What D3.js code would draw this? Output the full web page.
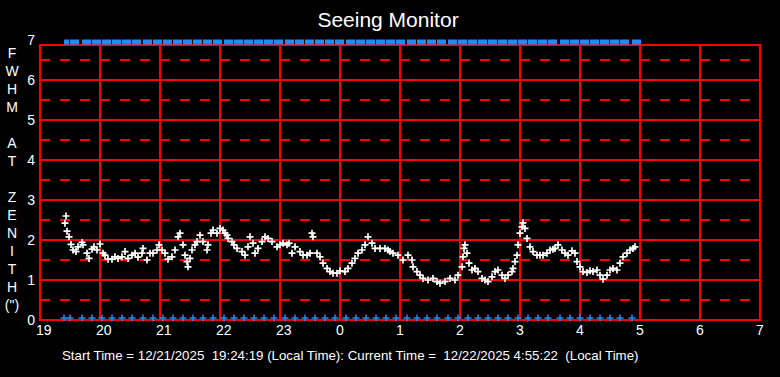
<!DOCTYPE html>
<html>
<head>
<meta charset="utf-8">
<script src="https://cdn.jsdelivr.net/npm/d3@7"></script>
<style>
  body { margin: 0; background: #000; }
  svg { display: block; font-family: 'Liberation Sans', Arial, sans-serif; }
</style>
</head>
<body>
<script>
const width = 780
const height = 377
const gridColor = '#ff0000'
const seeingColor = '#ffffff'
const flagColor = '#1e8cf8'

const title = 'Seeing Monitor'
const footer = 'Start Time = 12/21/2025  19:24:19 (Local Time): Current Time =  12/22/2025 4:55:22  (Local Time)'
const yLetters = ['F', 'W', 'H', 'M', '', 'A', 'T', '', 'Z', 'E', 'N', 'I', 'T', 'H', '(")']

// x ticks are hours since local 19:00, shown as clock hours
const hourTicks = [19, 20, 21, 22, 23, 24, 25, 26, 27, 28, 29, 30, 31]
const fwhmTicks = [0, 1, 2, 3, 4, 5, 6, 7]
const halfTicks = [0.5, 1.5, 2.5, 3.5, 4.5, 5.5, 6.5]

// seeing samples: minutes after 19:00, FWHM in arcsec
const seeingMinutes = [
  25, 26, 27, 29, 31, 33, 36, 38, 42, 43, 47, 49, 52, 54, 57, 60, 63, 65, 68, 72,
  75, 78, 82, 85, 88, 92, 95, 98, 102, 103, 107, 110, 113, 117, 119, 122, 125, 128, 132, 135,
  138, 140, 143, 145, 147, 148, 150, 152, 155, 157, 160, 163, 167, 168, 171, 173, 177, 180, 183, 185,
  187, 188, 192, 194, 197, 202, 205, 208, 210, 213, 215, 218, 222, 225, 228, 232, 237, 240, 243, 247,
  249, 252, 255, 260, 263, 267, 270, 272, 273, 277, 280, 283, 287, 290, 293, 297, 300, 305, 308, 312,
  315, 318, 322, 325, 328, 332, 335, 340, 345, 348, 350, 353, 358, 363, 368, 372, 373, 377, 380, 383,
  388, 393, 397, 400, 405, 410, 415, 418, 422, 423, 424, 425, 427, 429, 432, 435, 438, 442, 445, 448,
  452, 455, 458, 462, 465, 468, 472, 473, 475, 477, 478, 480, 482, 483, 485, 487, 490, 493, 497, 500,
  503, 507, 510, 513, 515, 518, 522, 525, 528, 532, 535, 537, 540, 543, 547, 550, 553, 557, 560, 563,
  567, 570, 573, 577, 580, 583, 587, 590, 593, 595
]
const seeingFwhm = [
  2.42, 2.6, 2.22, 2.08, 1.89, 1.75, 1.71, 1.83, 1.94, 1.88, 1.67, 1.54, 1.77, 1.83, 1.75, 1.9, 1.67, 1.62, 1.52, 1.52,
  1.58, 1.54, 1.58, 1.71, 1.54, 1.62, 1.67, 1.57, 1.67, 1.79, 1.5, 1.67, 1.67, 1.75, 1.88, 1.75, 1.67, 1.52, 1.58, 1.75,
  2.08, 2.17, 1.88, 1.62, 1.46, 1.33, 1.54, 1.75, 1.88, 1.96, 2.12, 1.96, 1.75, 1.88, 2.17, 2.25, 2.17, 2.29, 2.25, 2.17,
  2.12, 2.04, 1.96, 1.88, 1.79, 1.71, 1.62, 1.83, 2.08, 1.92, 1.67, 1.79, 1.96, 2.08, 2.04, 1.96, 1.83, 1.88, 1.92, 1.88,
  1.92, 1.67, 1.83, 1.71, 1.62, 1.62, 1.67, 2.17, 2.08, 1.67, 1.58, 1.42, 1.29, 1.21, 1.17, 1.17, 1.23, 1.21, 1.29, 1.42,
  1.54, 1.67, 1.75, 1.88, 2.08, 1.92, 1.79, 1.79, 1.79, 1.75, 1.71, 1.67, 1.62, 1.5, 1.62, 1.5, 1.33, 1.21, 1.12, 1.04,
  1.0, 1.04, 0.96, 0.92, 0.96, 1.04, 1.0, 1.12, 1.33, 1.58, 1.79, 1.88, 1.67, 1.42, 1.25, 1.29, 1.21, 1.04, 1.0, 0.96,
  1.08, 1.21, 1.25, 1.12, 1.04, 1.12, 1.21, 1.29, 1.46, 1.62, 1.88, 2.17, 2.33, 2.43, 2.29, 2.04, 1.83, 1.71, 1.62, 1.62,
  1.62, 1.67, 1.75, 1.77, 1.79, 1.88, 1.75, 1.67, 1.62, 1.73, 1.67, 1.46, 1.33, 1.21, 1.19, 1.23, 1.21, 1.25, 1.12, 1.02,
  1.12, 1.25, 1.29, 1.25, 1.42, 1.58, 1.67, 1.75, 1.79, 1.83
]

// status flags (blue), minutes after 19:00
const flagMinutes = [
  24, 30, 42, 52, 62, 72, 82, 92, 103, 113, 123, 133, 143, 153, 163, 173, 184, 194, 204, 214,
  224, 234, 245, 255, 265, 275, 285, 295, 306, 316, 326, 336, 346, 356, 367, 377, 387, 397, 408, 418,
  428, 438, 448, 458, 468, 478, 488, 498, 508, 520, 530, 540, 550, 560, 570, 580, 592
]
const flagLow = 0.05
const flagHigh = 6.95

const x = d3.scaleLinear().domain([19, 31]).range([40, 760])
const y = d3.scaleLinear().domain([0, 7]).range([320, 40])
const xm = m => x(19 + m / 60)

const svg = d3.select('body').append('svg')
  .attr('width', width)
  .attr('height', height)

svg.append('rect').attr('width', width).attr('height', height).attr('fill', '#000')

const frameTop = y(7) + 5

// grid
const grid = svg.append('g')
  .attr('stroke', gridColor).attr('fill', 'none')
  .attr('stroke-width', 1.6)
  .attr('shape-rendering', 'crispEdges')
grid.selectAll('line.h')
  .data(fwhmTicks.filter(d => d > 0 && d < 7))
  .join('line')
  .attr('x1', x(19)).attr('x2', x(31))
  .attr('y1', d => y(d)).attr('y2', d => y(d))
grid.selectAll('line.d')
  .data(halfTicks)
  .join('line')
  .attr('x1', x(19)).attr('x2', x(31))
  .attr('y1', d => y(d)).attr('y2', d => y(d))
  .attr('stroke-dasharray', '10,10')
grid.selectAll('line.v')
  .data(hourTicks)
  .join('line')
  .attr('x1', d => x(d)).attr('x2', d => x(d))
  .attr('y1', frameTop).attr('y2', y(0))
grid.append('rect')
  .attr('x', x(19)).attr('y', frameTop)
  .attr('width', x(31) - x(19)).attr('height', y(0) - frameTop)

// axes
const xAxis = svg.append('g')
  .attr('transform', `translate(0,${y(0)})`)
  .call(d3.axisBottom(x).tickValues(hourTicks).tickSize(0).tickFormat(d => d % 24))
xAxis.select('.domain').remove()
xAxis.selectAll('text')
  .attr('fill', '#fff').attr('font-size', 14)
  .attr('text-anchor', 'start')
  .attr('x', -4.5).attr('y', 15).attr('dy', 0)
  .style('font-family', 'Liberation Sans, Arial, sans-serif')

const yAxis = svg.append('g')
  .attr('transform', `translate(${x(19)},0)`)
  .call(d3.axisLeft(y).tickValues(fwhmTicks).tickSize(0).tickFormat(d3.format('d')))
yAxis.select('.domain').remove()
yAxis.selectAll('text')
  .attr('fill', '#fff').attr('font-size', 14)
  .attr('x', -5)
  .style('font-family', 'Liberation Sans, Arial, sans-serif')

svg.append('g')
  .attr('fill', '#fff')
  .attr('font-size', 14)
  .attr('text-anchor', 'middle')
  .selectAll('text')
  .data(yLetters)
  .join('text')
  .attr('x', 12)
  .attr('y', (d, i) => 58 + i * 18)
  .text(d => d)

svg.append('text')
  .attr('x', 388).attr('y', 27)
  .attr('fill', '#fff').attr('font-size', 21)
  .attr('text-anchor', 'middle')
  .text(title)

svg.append('text')
  .attr('x', 62).attr('y', 360)
  .attr('fill', '#fff').attr('font-size', 13.3)
  .style('white-space', 'pre')
  .text(footer)

// flags
const topBar = svg.append('g').attr('fill', flagColor)
topBar.selectAll('rect')
  .data(flagMinutes)
  .join('rect')
  .attr('x', d => xm(d))
  .attr('width', (d, i) => Math.min(9, (i < flagMinutes.length - 1 ? xm(flagMinutes[i + 1]) : xm(d) + 10) - xm(d) - 1))
  .attr('y', y(flagHigh) - 2.5)
  .attr('height', 5)

const cross = s => `M${-s},0H${s}M0,${-s}V${s}`

svg.append('g')
  .attr('stroke', flagColor).attr('stroke-width', 1.5)
  .selectAll('path')
  .data(flagMinutes)
  .join('path')
  .attr('transform', d => `translate(${xm(d)},${y(flagLow)})`)
  .attr('d', cross(3.5))

// seeing
svg.append('g')
  .attr('stroke', seeingColor).attr('stroke-width', 1.7)
  .selectAll('path')
  .data(seeingMinutes.map((m, i) => [m, seeingFwhm[i]]))
  .join('path')
  .attr('transform', ([m, v]) => `translate(${xm(m)},${y(v)})`)
  .attr('d', cross(3.5))
</script>
</body>
</html>
